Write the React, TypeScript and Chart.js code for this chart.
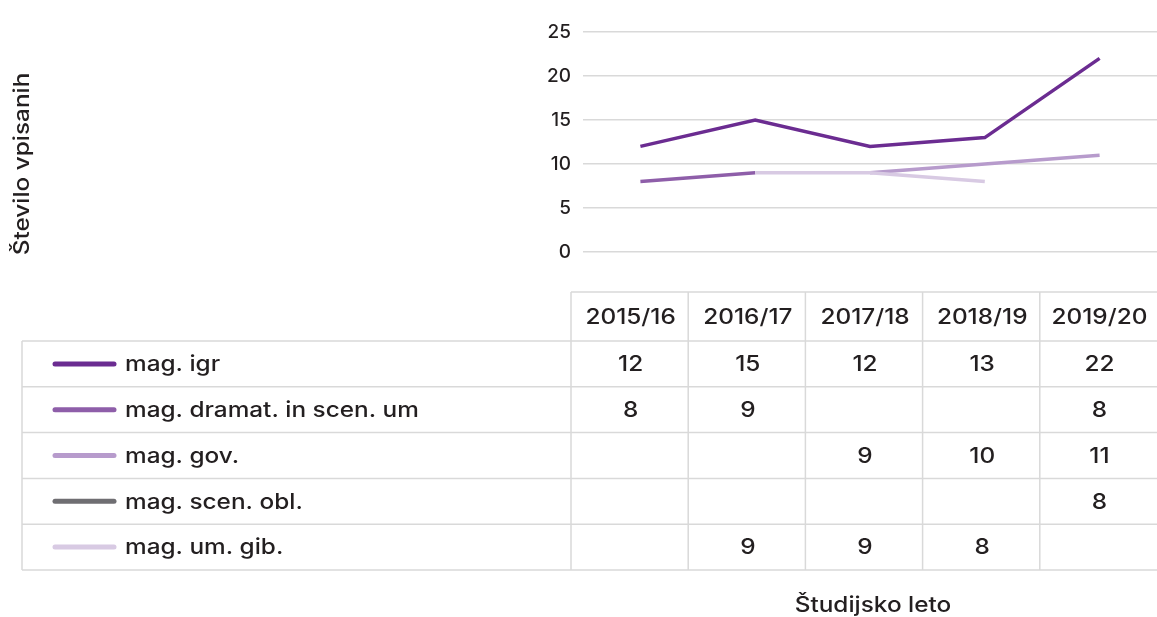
import React, { useEffect, useRef } from "react";
import { Chart, registerables } from "chart.js";

Chart.register(...registerables);

const categories = ["2015/16", "2016/17", "2017/18", "2018/19", "2019/20"];
const seriesNames = [
  "mag. igr",
  "mag. dramat. in scen. um",
  "mag. gov.",
  "mag. scen. obl.",
  "mag. um. gib.",
];
const magIgr = [12, 15, 12, 13, 22];
const magDramat = [8, 9, null, null, 8];
const magGov = [null, null, 9, 10, 11];
const magScenObl = [null, null, null, null, 8];
const magUmGib = [null, 9, 9, 8, null];
const seriesColors = ["#6b2c91", "#8e5ea9", "#b79bcc", "#6f6e72", "#d8cae3"];
const yTitle = "Število vpisanih";
const xTitle = "Študijsko leto";

const FONT = "Inter, 'DejaVu Sans', sans-serif";
const TEXT = "#231f20";
const BORDER = "#d9d9d9";
const WIDEN = 1.16;

function wideText(ctx: CanvasRenderingContext2D, text: string, x: number, y: number, align: CanvasTextAlign, rotate = 0) {
  ctx.save();
  ctx.translate(x, y);
  if (rotate) ctx.rotate(rotate);
  ctx.scale(WIDEN, 1);
  ctx.textAlign = align;
  ctx.fillText(text, 0, 0);
  ctx.restore();
}

const tablePlugin = {
  id: "dataTable",
  afterDraw(chart: any) {
    const { ctx, chartArea } = chart;
    const datasets = chart.data.datasets;
    const labels = chart.data.labels as string[];
    const n = labels.length;
    const colLeft = chartArea.left - 12;
    const right = chartArea.right;
    const colW = (right - colLeft) / n;
    const headerTop = chartArea.bottom + 40;
    const headerBottom = headerTop + 49;
    const rowH = 45.8;
    const tableLeft = 22;
    const tableBottom = headerBottom + rowH * datasets.length;

    ctx.save();
    ctx.strokeStyle = BORDER;
    ctx.lineWidth = 1.5;
    ctx.beginPath();
    ctx.moveTo(colLeft, headerTop);
    ctx.lineTo(right, headerTop);
    for (let r = 0; r <= datasets.length; r++) {
      const y = headerBottom + r * rowH;
      ctx.moveTo(tableLeft, y);
      ctx.lineTo(right, y);
    }
    ctx.moveTo(tableLeft, headerBottom);
    ctx.lineTo(tableLeft, tableBottom);
    for (let c = 0; c < n; c++) {
      const x = colLeft + c * colW;
      ctx.moveTo(x, headerTop);
      ctx.lineTo(x, tableBottom);
    }
    ctx.stroke();

    ctx.fillStyle = TEXT;
    ctx.font = `500 21px ${FONT}`;
    ctx.textBaseline = "middle";
    for (let c = 0; c < n; c++) {
      const cx = colLeft + (c + 0.5) * colW;
      wideText(ctx, labels[c], cx + 1, (headerTop + headerBottom) / 2 + 1, "center");
    }
    datasets.forEach((ds: any, r: number) => {
      const cy = headerBottom + (r + 0.5) * rowH;
      ctx.save();
      ctx.strokeStyle = ds.borderColor;
      ctx.lineWidth = 5;
      ctx.lineCap = "round";
      ctx.beginPath();
      ctx.moveTo(55, cy);
      ctx.lineTo(114, cy);
      ctx.stroke();
      ctx.restore();
      wideText(ctx, ds.label, 125, cy + 1, "left");
      ds.data.forEach((v: number | null, c: number) => {
        if (v === null || v === undefined) return;
        const cx = colLeft + (c + 0.5) * colW;
        wideText(ctx, String(v), cx + 1, cy + 1, "center");
      });
    });

    wideText(ctx, xTitle, (chartArea.left + chartArea.right) / 2 + 3, 606, "center");
    wideText(ctx, yTitle, 23, 164, "center", -Math.PI / 2);
    ctx.restore();
  },
};

export default function App() {
  const ref = useRef<HTMLCanvasElement>(null);
  useEffect(() => {
    if (!ref.current) return;
    const series = [magIgr, magDramat, magGov, magScenObl, magUmGib];
    const chart = new Chart(ref.current, {
      type: "line",
      data: {
        labels: categories,
        datasets: series.map((d, i) => ({
          label: seriesNames[i],
          data: d,
          borderColor: seriesColors[i],
          backgroundColor: seriesColors[i],
          borderWidth: 3.5,
          pointRadius: 0,
          pointHoverRadius: 0,
          spanGaps: false,
          tension: 0,
          borderCapStyle: "butt" as const,
          order: series.length - i,
        })),
      },
      options: {
        responsive: false,
        animation: false,
        devicePixelRatio: 1,
        layout: { padding: { top: 32, bottom: 617 - 252, left: 0, right: 0 } },
        plugins: {
          legend: { display: false },
          tooltip: { enabled: false },
          title: { display: false },
        },
        scales: {
          x: {
            type: "category",
            display: false,
            offset: true,
          },
          y: {
            min: 0,
            max: 25,
            ticks: {
              stepSize: 5,
              padding: 12,
              color: TEXT,
              font: { family: FONT, size: 19, weight: 500 },
            },
            grid: { color: BORDER, lineWidth: 1.5, drawTicks: false },
            border: { display: false },
            afterFit: (scale: any) => {
              scale.width = 583;
            },
          },
        },
      },
      plugins: [tablePlugin],
    });
    return () => chart.destroy();
  }, []);
  return (
    <div style={{ position: "fixed", left: 0, top: 0, width: 1157, height: 617, background: "#fff" }}>
      <canvas ref={ref} width={1157} height={617} />
    </div>
  );
}
